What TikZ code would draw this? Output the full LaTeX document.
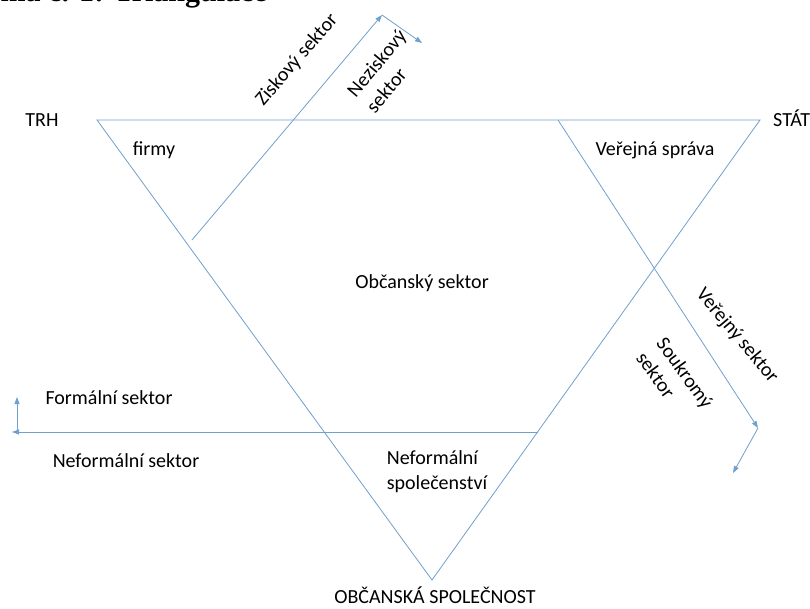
\documentclass[tikz,border=0pt]{standalone}
\usepackage{fontspec}
\setmainfont{Carlito}
\newfontfamily\titlefont{Liberation Serif}
\usetikzlibrary{arrows.meta}
\definecolor{linka}{RGB}{112,160,204}

\begin{document}
\begin{tikzpicture}
                [x=1pt,y=-1pt,
                hrana/.style = {draw=linka, line width=0.8pt},
                sipka/.style = {hrana, -{Triangle[length=7pt,width=5pt]}},
                popis/.style = {font=\fontsize{20}{25}\selectfont, inner sep=0pt},
                dvaradky/.style = {popis, align=left}]
                \useasboundingbox (0,0) rectangle (810,608);
                % Nadpis (shora oriznuty)
                \node[anchor=base east, inner sep=0pt,
                      font=\titlefont\bfseries\fontsize{30}{34}\selectfont] (nadpis) at (267,1) {Schéma č. 1: Triangulace};
                % Vrcholy trojuhelniku
                \coordinate (trh) at (97,120);
                \coordinate (stat) at (760,120);
                \coordinate (spol) at (432,580);
                \draw[hrana] (trh) -- (stat) -- (spol) -- cycle;
                % Ziskovy / neziskovy sektor
                \coordinate (zisk) at (192,240);
                \coordinate (ziskroh) at (382,15);
                \coordinate (neziskkonec) at (422,43);
                \draw[sipka] (zisk) -- (ziskroh);
                \draw[sipka] (ziskroh) -- (neziskkonec);
                % Verejny / soukromy sektor
                \coordinate (verej) at (558,120);
                \coordinate (verejroh) at (758,428);
                \coordinate (soukrkonec) at (733,473);
                \draw[sipka] (verej) -- (verejroh);
                \draw[sipka] (verejroh) -- (soukrkonec);
                % Formalni / neformalni sektor
                \coordinate (form) at (538,432);
                \coordinate (formroh) at (12,432);
                \coordinate (formpata) at (17,432);
                \coordinate (formkonec) at (17,397);
                \draw[sipka] (form) -- (formroh);
                \draw[sipka] (formpata) -- (formkonec);
                % Vrcholy - popisky
                \node[popis] (TRH) at (42,120) {TRH};
                \node[popis, anchor=west] (STAT) at (773,118) {STÁT};
                \node[popis] (OBC) at (435,595) {OBČANSKÁ SPOLEČNOST};
                % Oblasti
                \node[popis] (firmy) at (154,150) {firmy};
                \node[popis] (sprava) at (655,150) {Veřejná správa};
                \node[popis] (obcsektor) at (422,283) {Občanský sektor};
                \node[dvaradky] (neformspol) at (437,472) {Neformální\\společenství};
                \node[popis] (formalni) at (109,398) {Formální sektor};
                \node[popis] (neformalni) at (126,461) {Neformální sektor};
                % Sikme popisky
                \node[popis, rotate=49] (ziskovy) at (297,60) {Ziskový sektor};
                \node[dvaradky, rotate=50] (neziskovy) at (386,71) {Neziskový\\sektor};
                \node[popis, rotate=-50] (verejny) at (737,336) {Veřejný sektor};
                \node[dvaradky, rotate=-54] (soukromy) at (675,380) {Soukromý\\sektor};
\end{tikzpicture}
\end{document}
